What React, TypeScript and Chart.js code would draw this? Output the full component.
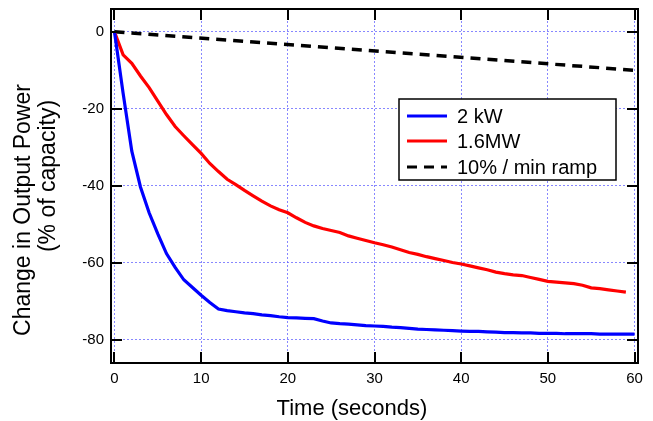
import React, { useEffect, useRef } from "react";
import { Chart, registerables } from "chart.js";

Chart.register(...registerables);

// ---- data ----
const xTickValues = [0, 10, 20, 30, 40, 50, 60];
const yTickValues = [0, -20, -40, -60, -80];

const seriesLabels = ["2 kW", "1.6MW", "10% / min ramp"];

const blueTimes = [
  0, 1, 2, 3, 4, 5, 6, 7, 8, 9, 10, 11, 12, 13, 14, 15, 16, 17, 18, 19, 20,
  21, 22, 23, 24, 25, 26, 27, 28, 29, 30, 31, 32, 33, 34, 35, 36, 37, 38, 39,
  40, 41, 42, 43, 44, 45, 46, 47, 48, 49, 50, 51, 52, 53, 54, 55, 56, 57, 58,
  59, 60,
];
const blueValues = [
  0, -16.0, -31.0, -40.3, -47.0, -52.5, -57.6, -61.2, -64.4, -66.4, -68.4,
  -70.3, -72.0, -72.4, -72.7, -73.0, -73.2, -73.5, -73.7, -74.0, -74.2, -74.3,
  -74.4, -74.5, -75.1, -75.6, -75.8, -75.9, -76.1, -76.3, -76.4, -76.5, -76.7,
  -76.8, -77.0, -77.2, -77.3, -77.4, -77.5, -77.6, -77.7, -77.8, -77.8, -77.9,
  -78.0, -78.1, -78.1, -78.2, -78.2, -78.3, -78.3, -78.3, -78.4, -78.4, -78.4,
  -78.4, -78.5, -78.5, -78.5, -78.5, -78.5,
];

const redTimes = [
  0, 1, 2, 3, 4, 5, 6, 7, 8, 9, 10, 11, 12, 13, 14, 15, 16, 17, 18, 19, 20,
  21, 22, 23, 24, 25, 26, 27, 28, 29, 30, 31, 32, 33, 34, 35, 36, 37, 38, 39,
  40, 41, 42, 43, 44, 45, 46, 47, 48, 49, 50, 51, 52, 53, 54, 55, 56, 57, 58,
  59,
];
const redValues = [
  0, -6.0, -8.2, -11.5, -14.5, -18.0, -21.5, -24.6, -27.0, -29.3, -31.6,
  -34.2, -36.3, -38.3, -39.7, -41.2, -42.6, -44.0, -45.2, -46.2, -47.0, -48.3,
  -49.5, -50.4, -51.1, -51.6, -52.1, -53.0, -53.6, -54.2, -54.8, -55.3, -55.9,
  -56.6, -57.3, -57.8, -58.4, -58.9, -59.4, -59.9, -60.3, -60.8, -61.3, -61.8,
  -62.4, -62.8, -63.1, -63.3, -63.8, -64.3, -64.8, -65.0, -65.2, -65.4, -65.8,
  -66.5, -66.7, -67.0, -67.3, -67.6,
];

const rampTimes = [0, 60];
const rampValues = [0, -10];

const xTitle = "Time (seconds)";
const yTitleLines = ["Change in Output Power", "(% of capacity)"];

const FONT = "'Liberation Sans', Arial, Helvetica, sans-serif";
const GRID = "rgba(95,95,255,0.75)";

const toPoints = (xs: number[], ys: number[]) =>
  xs.map((x, i) => ({ x, y: ys[i] }));

const decorPlugin = {
  id: "decor",
  afterDatasetsDraw(chart: any) {
    const { ctx, chartArea: a, scales } = chart;
    ctx.save();
    // frame
    ctx.strokeStyle = "#000";
    ctx.lineWidth = 2;
    ctx.setLineDash([]);
    ctx.strokeRect(a.left, a.top, a.right - a.left, a.bottom - a.top);
    // inward ticks
    ctx.beginPath();
    for (const v of xTickValues) {
      const p = Math.round(scales.x.getPixelForValue(v));
      ctx.moveTo(p, a.bottom);
      ctx.lineTo(p, a.bottom - 11);
      ctx.moveTo(p, a.top);
      ctx.lineTo(p, a.top + 11);
    }
    for (const v of yTickValues) {
      const p = Math.round(scales.y.getPixelForValue(v));
      ctx.moveTo(a.left, p);
      ctx.lineTo(a.left + 11, p);
      ctx.moveTo(a.right, p);
      ctx.lineTo(a.right - 11, p);
    }
    ctx.stroke();

    // legend box
    const lx = 399, ly = 99, lw = 217, lh = 81;
    ctx.fillStyle = "#fff";
    ctx.fillRect(lx, ly, lw, lh);
    ctx.lineWidth = 1.5;
    ctx.strokeRect(lx, ly, lw, lh);
    const rowY = [116, 141, 167];
    chart.data.datasets.forEach((ds: any, i: number) => {
      ctx.beginPath();
      ctx.strokeStyle = ds.borderColor;
      ctx.lineWidth = 3;
      ctx.setLineDash(ds.borderDash || []);
      ctx.moveTo(lx + 8, rowY[i]);
      ctx.lineTo(lx + 48, rowY[i]);
      ctx.stroke();
      ctx.setLineDash([]);
      ctx.fillStyle = "#000";
      ctx.font = `20px ${FONT}`;
      ctx.textAlign = "left";
      ctx.textBaseline = "middle";
      ctx.fillText(ds.label, lx + 58, rowY[i] + 1);
    });

    // axis titles
    ctx.fillStyle = "#000";
    ctx.font = `22px ${FONT}`;
    ctx.textAlign = "center";
    ctx.textBaseline = "alphabetic";
    ctx.fillText(xTitle, 352, 415);

    ctx.font = `23px ${FONT}`;
    const yCenters = [210, 176];
    const yBase = [30, 55];
    yTitleLines.forEach((t, i) => {
      ctx.save();
      ctx.translate(yBase[i], yCenters[i]);
      ctx.rotate(-Math.PI / 2);
      ctx.fillText(t, 0, 0);
      ctx.restore();
    });
    ctx.restore();
  },
};

export default function App() {
  const ref = useRef<HTMLCanvasElement>(null);
  useEffect(() => {
    document.body.style.margin = "0";
    const chart = new Chart(ref.current as HTMLCanvasElement, {
      type: "line",
      data: {
        datasets: [
          {
            label: seriesLabels[0],
            data: toPoints(blueTimes, blueValues),
            borderColor: "#0000ff",
            borderWidth: 3.2,
            pointRadius: 0,
            tension: 0,
          },
          {
            label: seriesLabels[1],
            data: toPoints(redTimes, redValues),
            borderColor: "#ff0000",
            borderWidth: 3.2,
            pointRadius: 0,
            tension: 0,
          },
          {
            label: seriesLabels[2],
            data: toPoints(rampTimes, rampValues),
            borderColor: "#000000",
            borderWidth: 3.5,
            borderDash: [10, 7],
            pointRadius: 0,
            tension: 0,
          },
        ],
      },
      options: {
        animation: false,
        responsive: false,
        devicePixelRatio: 1,
        layout: { padding: { top: 9, right: 15, left: 0, bottom: 0 } },
        plugins: {
          legend: { display: false },
          tooltip: { enabled: false },
          title: { display: false },
        },
        scales: {
          x: {
            type: "linear",
            min: -0.4,
            max: 60.4,
            afterBuildTicks: (s: any) => {
              s.ticks = xTickValues.map((v) => ({ value: v }));
            },
            afterFit: (s: any) => {
              s.height = 58;
              s.paddingLeft = 0;
              s.paddingRight = 0;
            },
            ticks: {
              color: "#000",
              font: { family: FONT, size: 15 },
              padding: 7,
              maxRotation: 0,
              autoSkip: false,
            },
            grid: {
              drawTicks: false,
              color: GRID,
              lineWidth: 1,
            },
            border: { display: false, dash: [2, 2] },
          },
          y: {
            type: "linear",
            min: -86,
            max: 5.9,
            afterBuildTicks: (s: any) => {
              s.ticks = yTickValues.map((v) => ({ value: v }));
            },
            afterFit: (s: any) => {
              s.width = 111;
              s.paddingTop = 0;
              s.paddingBottom = 0;
            },
            ticks: {
              color: "#000",
              font: { family: FONT, size: 15 },
              padding: 7,
              autoSkip: false,
            },
            grid: {
              drawTicks: false,
              color: GRID,
              lineWidth: 1,
            },
            border: { display: false, dash: [2, 2] },
          },
        },
      },
      plugins: [decorPlugin],
    });
    return () => chart.destroy();
  }, []);
  return (
    <div style={{ position: "absolute", left: 0, top: 0, width: 653, height: 421 }}>
      <canvas ref={ref} width={653} height={421} style={{ display: "block", width: 653, height: 421 }} />
    </div>
  );
}
